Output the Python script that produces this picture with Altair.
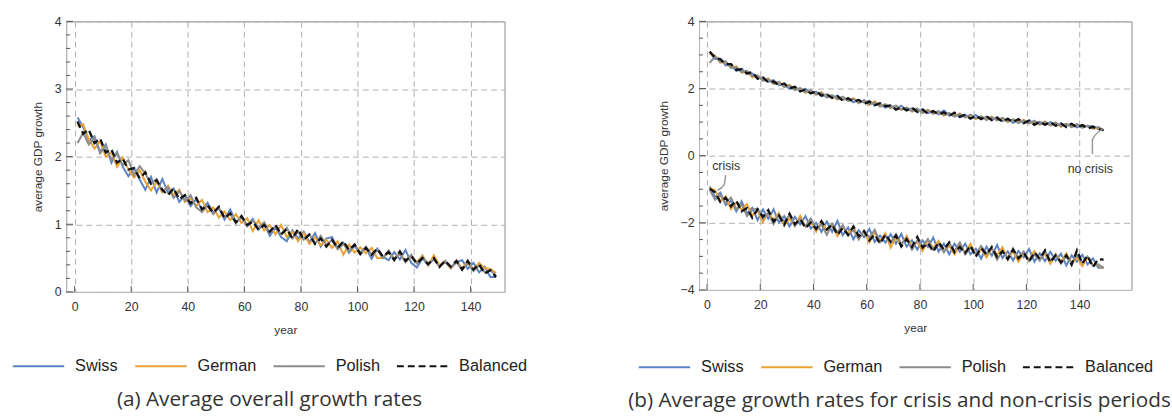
import altair as alt
import pandas as pd

years = list(range(1, 150, 2))

series_names = ["Swiss", "German", "Polish", "Balanced"]
series_colors = ["#5b83c6", "#e9a235", "#8c8c8c", "#111111"]
series_dash = [[1, 0], [1, 0], [1, 0], [7, 4]]

# ---- panel (a): average overall growth
a_swiss = [2.58, 2.44, 2.24, 2.30, 2.07, 2.18, 1.91, 2.07, 1.85, 1.71,
           1.83, 1.66, 1.51, 1.70, 1.47, 1.67, 1.47, 1.53, 1.33, 1.43,
           1.27, 1.37, 1.22, 1.32, 1.17, 1.24, 1.07, 1.22, 1.03, 1.10,
           0.99, 1.08, 0.92, 1.01, 0.83, 0.95, 0.81, 0.75, 0.91, 0.79,
           0.89, 0.73, 0.87, 0.67, 0.79, 0.81, 0.65, 0.73, 0.58, 0.68,
           0.56, 0.65, 0.49, 0.64, 0.52, 0.47, 0.59, 0.48, 0.62, 0.43,
           0.36, 0.50, 0.39, 0.50, 0.39, 0.44, 0.35, 0.44, 0.47, 0.34,
           0.43, 0.29, 0.37, 0.22, 0.22]
a_german = [2.45, 2.48, 2.26, 2.12, 2.23, 2.00, 2.07, 1.85, 1.99, 1.81,
            1.69, 1.80, 1.63, 1.50, 1.63, 1.47, 1.57, 1.43, 1.51, 1.33,
            1.39, 1.27, 1.36, 1.18, 1.25, 1.10, 1.19, 1.06, 1.15, 1.02,
            1.09, 0.90, 1.06, 0.91, 0.99, 0.85, 0.99, 0.81, 0.89, 0.75,
            0.87, 0.71, 0.81, 0.69, 0.77, 0.65, 0.75, 0.55, 0.70, 0.58,
            0.66, 0.57, 0.65, 0.50, 0.50, 0.59, 0.49, 0.58, 0.44, 0.53,
            0.44, 0.54, 0.39, 0.54, 0.39, 0.46, 0.35, 0.46, 0.35, 0.44,
            0.33, 0.43, 0.35, 0.34, 0.28]
a_polish = [2.20, 2.35, 2.18, 2.28, 2.05, 2.16, 1.95, 2.05, 1.87, 1.95,
            1.73, 1.86, 1.75, 1.60, 1.67, 1.49, 1.55, 1.39, 1.49, 1.35,
            1.43, 1.25, 1.18, 1.28, 1.15, 1.24, 1.11, 1.16, 1.01, 1.12,
            0.97, 1.06, 0.94, 1.03, 0.87, 0.97, 0.85, 0.95, 0.79, 0.89,
            0.77, 0.85, 0.71, 0.83, 0.69, 0.77, 0.63, 0.71, 0.60, 0.70,
            0.58, 0.67, 0.55, 0.62, 0.50, 0.61, 0.49, 0.56, 0.44, 0.55,
            0.42, 0.52, 0.41, 0.48, 0.37, 0.46, 0.37, 0.44, 0.33, 0.42,
            0.31, 0.39, 0.29, 0.32, 0.24]
a_balanced = [2.52, 2.34, 2.40, 2.20, 2.27, 2.06, 2.11, 1.91, 1.97, 1.81,
              1.83, 1.68, 1.77, 1.60, 1.65, 1.51, 1.43, 1.53, 1.37, 1.43,
              1.31, 1.39, 1.22, 1.28, 1.17, 1.26, 1.09, 1.16, 1.03, 1.12,
              0.99, 1.04, 0.92, 0.99, 0.89, 0.99, 0.85, 0.93, 0.79, 0.93,
              0.77, 0.85, 0.71, 0.79, 0.67, 0.77, 0.65, 0.75, 0.62, 0.70,
              0.56, 0.65, 0.55, 0.64, 0.52, 0.59, 0.47, 0.60, 0.46, 0.53,
              0.42, 0.50, 0.41, 0.50, 0.37, 0.46, 0.37, 0.46, 0.33, 0.46,
              0.33, 0.41, 0.27, 0.32, 0.22]

# ---- panel (b): no-crisis periods
b_nc_swiss = [3.08, 2.88, 2.89, 2.69, 2.71, 2.52, 2.59, 2.43, 2.45, 2.29,
              2.33, 2.20, 2.25, 2.10, 2.11, 1.99, 2.05, 1.93, 1.99, 1.87,
              1.90, 1.77, 1.83, 1.72, 1.79, 1.66, 1.71, 1.59, 1.66, 1.58,
              1.63, 1.50, 1.56, 1.43, 1.50, 1.39, 1.49, 1.35, 1.41, 1.29,
              1.39, 1.27, 1.33, 1.23, 1.35, 1.19, 1.26, 1.14, 1.22, 1.12,
              1.21, 1.09, 1.16, 1.06, 1.15, 1.03, 1.10, 0.98, 1.07, 0.97,
              1.06, 0.96, 1.01, 0.92, 1.00, 0.89, 0.96, 0.89, 0.95, 0.84,
              0.91, 0.87, 0.88, 0.79, 0.76]
b_nc_german = [3.04, 2.98, 2.77, 2.79, 2.63, 2.66, 2.47, 2.51, 2.33, 2.39,
               2.25, 2.30, 2.13, 2.18, 2.05, 2.11, 1.97, 2.01, 1.87, 1.93,
               1.82, 1.89, 1.75, 1.80, 1.67, 1.74, 1.63, 1.71, 1.58, 1.64,
               1.51, 1.62, 1.48, 1.53, 1.42, 1.49, 1.37, 1.43, 1.31, 1.39,
               1.29, 1.37, 1.25, 1.31, 1.19, 1.27, 1.18, 1.26, 1.14, 1.20,
               1.09, 1.17, 1.08, 1.16, 1.05, 1.11, 1.00, 1.08, 0.99, 1.07,
               0.96, 1.02, 0.93, 1.02, 0.90, 0.97, 0.86, 0.95, 0.85, 0.92,
               0.85, 0.89, 0.80, 0.83, 0.76]
b_nc_polish = [2.76, 2.96, 2.79, 2.81, 2.61, 2.64, 2.49, 2.53, 2.37, 2.39,
               2.23, 2.28, 2.15, 2.20, 2.05, 2.09, 1.95, 2.01, 1.89, 1.95,
               1.82, 1.87, 1.73, 1.80, 1.69, 1.76, 1.63, 1.69, 1.56, 1.66,
               1.53, 1.58, 1.46, 1.53, 1.42, 1.49, 1.37, 1.43, 1.33, 1.41,
               1.27, 1.35, 1.25, 1.33, 1.21, 1.27, 1.16, 1.24, 1.14, 1.22,
               1.11, 1.17, 1.06, 1.14, 1.05, 1.13, 1.02, 1.08, 0.97, 1.05,
               0.96, 1.04, 0.93, 1.00, 0.90, 0.99, 0.88, 0.95, 0.85, 0.94,
               0.83, 0.89, 0.82, 0.85, 0.76]
b_nc_balanced = [3.10, 2.92, 2.87, 2.73, 2.73, 2.56, 2.57, 2.45, 2.49, 2.29,
                 2.33, 2.18, 2.21, 2.10, 2.15, 2.01, 2.05, 1.91, 1.97, 1.85,
                 1.92, 1.79, 1.83, 1.72, 1.77, 1.64, 1.71, 1.61, 1.66, 1.54,
                 1.61, 1.50, 1.56, 1.47, 1.50, 1.37, 1.45, 1.35, 1.43, 1.31,
                 1.37, 1.25, 1.33, 1.23, 1.29, 1.19, 1.28, 1.16, 1.22, 1.10,
                 1.19, 1.09, 1.18, 1.06, 1.13, 1.01, 1.10, 1.00, 1.09, 0.97,
                 1.04, 0.92, 1.01, 0.92, 1.00, 0.89, 0.96, 0.85, 0.95, 0.84,
                 0.91, 0.81, 0.86, 0.79, 0.76]

# ---- panel (b): crisis periods
b_c_swiss = [-0.92, -1.23, -1.10, -1.47, -1.35, -1.66, -1.36, -1.72, -1.55, -1.92,
             -1.60, -1.88, -1.60, -1.99, -1.80, -2.11, -1.82, -2.05, -1.80, -2.17,
             -2.00, -2.27, -1.96, -2.27, -1.94, -2.37, -2.14, -2.49, -2.22, -2.43,
             -2.18, -2.57, -2.38, -2.59, -2.34, -2.62, -2.33, -2.71, -2.52, -2.80,
             -2.52, -2.72, -2.44, -2.86, -2.62, -2.94, -2.62, -2.86, -2.62, -2.94,
             -2.77, -3.07, -2.71, -2.98, -2.66, -3.05, -2.85, -3.12, -2.84, -3.03,
             -2.78, -3.16, -2.91, -3.14, -2.86, -3.13, -2.92, -3.27, -2.97, -3.16,
             -2.95, -3.24, -3.06, -3.34, -3.34]
b_c_german = [-0.96, -1.03, -1.36, -1.21, -1.59, -1.40, -1.62, -1.44, -1.79, -1.64,
              -1.98, -1.68, -1.92, -1.71, -2.08, -1.87, -2.08, -1.79, -2.12, -1.97,
              -2.26, -1.97, -2.22, -2.05, -2.40, -2.13, -2.32, -2.11, -2.46, -2.27,
              -2.58, -2.29, -2.54, -2.31, -2.74, -2.44, -2.67, -2.39, -2.70, -2.56,
              -2.84, -2.52, -2.76, -2.54, -2.86, -2.68, -2.94, -2.66, -2.90, -2.62,
              -2.95, -2.77, -3.03, -2.76, -2.96, -2.73, -3.07, -2.84, -3.16, -2.89,
              -3.10, -2.84, -3.09, -2.92, -3.22, -2.93, -3.16, -2.91, -3.21, -3.04,
              -3.29, -3.02, -3.26, -3.26, -3.36]
b_c_polish = [-1.02, -1.31, -1.18, -1.41, -1.25, -1.60, -1.44, -1.80, -1.61, -1.58,
              -1.88, -1.72, -2.04, -1.75, -1.96, -1.77, -2.10, -1.89, -2.10, -1.87,
              -2.20, -2.05, -2.36, -2.03, -2.28, -2.07, -2.38, -2.21, -2.50, -2.23,
              -2.44, -2.21, -2.58, -2.39, -2.60, -2.34, -2.63, -2.45, -2.80, -2.52,
              -2.70, -2.48, -2.80, -2.64, -2.88, -2.60, -2.84, -2.58, -2.94, -2.74,
              -2.93, -2.69, -2.93, -2.76, -3.10, -2.83, -3.05, -2.76, -3.04, -2.85,
              -3.14, -2.94, -3.13, -2.84, -3.12, -2.95, -3.22, -2.99, -3.19, -2.96,
              -3.19, -3.00, -3.28, -3.24, -3.34]
b_c_balanced = [-0.98, -1.09, -1.38, -1.25, -1.51, -1.34, -1.66, -1.56, -1.85, -1.60,
                -1.82, -1.62, -1.96, -1.79, -2.06, -1.73, -2.04, -1.89, -2.16, -1.99,
                -2.18, -1.95, -2.20, -2.05, -2.36, -2.15, -2.36, -2.11, -2.40, -2.25,
                -2.52, -2.35, -2.62, -2.35, -2.56, -2.38, -2.71, -2.49, -2.72, -2.42,
                -2.74, -2.60, -2.86, -2.58, -2.80, -2.58, -2.88, -2.72, -2.90, -2.68,
                -3.01, -2.75, -2.95, -2.72, -3.02, -2.85, -3.09, -2.80, -3.06, -2.89,
                -3.16, -2.88, -3.07, -2.82, -3.18, -2.97, -3.18, -2.97, -3.25, -2.82,
                -3.21, -2.98, -3.32, -3.08, -3.10]

# axis ticks
x_ticks = [0, 20, 40, 60, 80, 100, 120, 140]
a_y_ticks = [0, 1, 2, 3, 4]
a_y_minor = [0.2, 0.4, 0.6, 0.8, 1.2, 1.4, 1.6, 1.8, 2.2, 2.4, 2.6, 2.8, 3.2, 3.4, 3.6, 3.8]
b_y_ticks = [-4, -2, 0, 2, 4]
b_y_minor = [-3.5, -3, -2.5, -1.5, -1, -0.5, 0.5, 1, 1.5, 2.5, 3, 3.5]

# annotations (data coordinates)
crisis_label = {"x": 7.2, "y": -0.3, "text": "crisis"}
crisis_callout_x = [7.0, 6.4, 4.0]
crisis_callout_y = [-0.58, -0.87, -1.03]
nocrisis_label = {"x": 144.0, "y": -0.4, "text": "no crisis"}
nocrisis_callout_x = [144.8, 144.8, 148.9]
nocrisis_callout_y = [0.05, 0.48, 0.80]

# ---------------------------------------------------------------
def long_frame(series_lists, regime):
    rows = []
    for name, vals in zip(series_names, series_lists):
        for yr, v in zip(years, vals):
            rows.append({"year": yr, "value": v, "series": name, "regime": regime})
    return pd.DataFrame(rows)

df_a = long_frame([a_swiss, a_german, a_polish, a_balanced], "all")
df_b = pd.concat([
    long_frame([b_nc_swiss, b_nc_german, b_nc_polish, b_nc_balanced], "no crisis"),
    long_frame([b_c_swiss, b_c_german, b_c_polish, b_c_balanced], "crisis"),
])

AXIS_FONT = "Liberation Sans"


def panel(df, width, height, xdom, ydom, yvals, yminor, lx, ly, caption, annotations=None):
    xs = alt.Scale(domain=xdom, nice=False, zero=False)
    ys = alt.Scale(domain=ydom, nice=False, zero=False)
    leg = alt.Legend(title=None, orient="none", legendX=lx, legendY=ly,
                     direction="horizontal", columns=4, symbolType="stroke",
                     symbolSize=2704, symbolStrokeWidth=2, labelFont=AXIS_FONT,
                     labelFontSize=16.5, labelColor="#222", labelOffset=10,
                     columnPadding=13, padding=0)
    col = alt.Color("series:N", scale=alt.Scale(domain=series_names, range=series_colors), legend=leg)
    dash = alt.StrokeDash("series:N", scale=alt.Scale(domain=series_names, range=series_dash), legend=leg)
    xax = alt.Axis(values=x_ticks, title="year", grid=True, gridDash=[6, 4], gridColor="#b0b0b0",
                   ticks=False, labelPadding=9, titlePadding=12, domainColor="#bbbbbb",
                   labelFlush=False, format="d")
    yax = alt.Axis(values=yvals, title="average GDP growth", grid=True, gridDash=[6, 4], gridColor="#b0b0b0",
                   ticks=False, labelPadding=5, titlePadding=10, domainColor="#bbbbbb",
                   labelFlush=False, format="d")

    solid = alt.Chart(df[df.series != "Balanced"]).mark_line(strokeWidth=2).encode(
        x=alt.X("year:Q", scale=xs, axis=xax),
        y=alt.Y("value:Q", scale=ys, axis=yax),
        color=col, strokeDash=dash, detail="regime:N",
    )
    bal = alt.Chart(df[df.series == "Balanced"]).mark_line(strokeWidth=2.3).encode(
        x=alt.X("year:Q", scale=xs), y=alt.Y("value:Q", scale=ys),
        color=col, strokeDash=dash, detail="regime:N",
    )
    xt = alt.Chart(pd.DataFrame({"t": x_ticks})).mark_rule(color="#555", strokeWidth=1).encode(
        x=alt.X("t:Q", scale=xs), y=alt.value(height), y2=alt.value(height - 6))
    ymaj = alt.Chart(pd.DataFrame({"t": yvals})).mark_rule(color="#555", strokeWidth=1).encode(
        y=alt.Y("t:Q", scale=ys), x=alt.value(0), x2=alt.value(7))
    ymin = alt.Chart(pd.DataFrame({"t": yminor})).mark_rule(color="#555", strokeWidth=1).encode(
        y=alt.Y("t:Q", scale=ys), x=alt.value(0), x2=alt.value(4))
    layers = [solid, bal, xt, ymaj, ymin]
    if annotations:
        layers += annotations(xs, ys)
    return alt.layer(*layers).properties(
        width=width, height=height,
        title=alt.TitleParams(text=caption, orient="bottom", anchor="middle", font="Open Sans",
                              fontSize=21, fontWeight="normal", color="#333", offset=15, dx=-16),
    )


def b_annotations(xs, ys):
    out = []
    for cx, cy in ((crisis_callout_x, crisis_callout_y), (nocrisis_callout_x, nocrisis_callout_y)):
        d = pd.DataFrame({"x": cx, "y": cy, "o": list(range(len(cx)))})
        out.append(alt.Chart(d).mark_line(color="#9a9a9a", strokeWidth=1.5, interpolate="monotone").encode(
            x=alt.X("x:Q", scale=xs), y=alt.Y("y:Q", scale=ys), order="o:Q"))
    lab = pd.DataFrame([crisis_label, nocrisis_label])
    out.append(alt.Chart(lab).mark_text(font=AXIS_FONT, fontSize=12.5, color="#333").encode(
        x=alt.X("x:Q", scale=xs), y=alt.Y("y:Q", scale=ys), text="text:N"))
    return out


left = panel(df_a, 444, 274, [-3, 152], [0, 4], a_y_ticks, a_y_minor, -55, 322,
             "(a) Average overall growth rates")
right = panel(df_b, 438, 272, [-3, 159.5], [-4, 4], b_y_ticks, b_y_minor, -62, 323,
              "(b) Average growth rates for crisis and non-crisis periods", b_annotations)

chart = alt.hconcat(left, right, spacing=100).resolve_scale(
    color="independent", strokeDash="independent"
).properties(
    padding={"left": 11, "top": 12, "right": 0, "bottom": 0},
    background="white",
).configure_view(stroke="#8a8a8a", strokeWidth=1).configure_axis(
    labelFont=AXIS_FONT, titleFont=AXIS_FONT, labelFontSize=12.5, titleFontSize=12,
    labelColor="#333", titleColor="#333", titleFontWeight="normal",
)

chart.save("out.html", embed_options={"renderer": "svg", "actions": False})
